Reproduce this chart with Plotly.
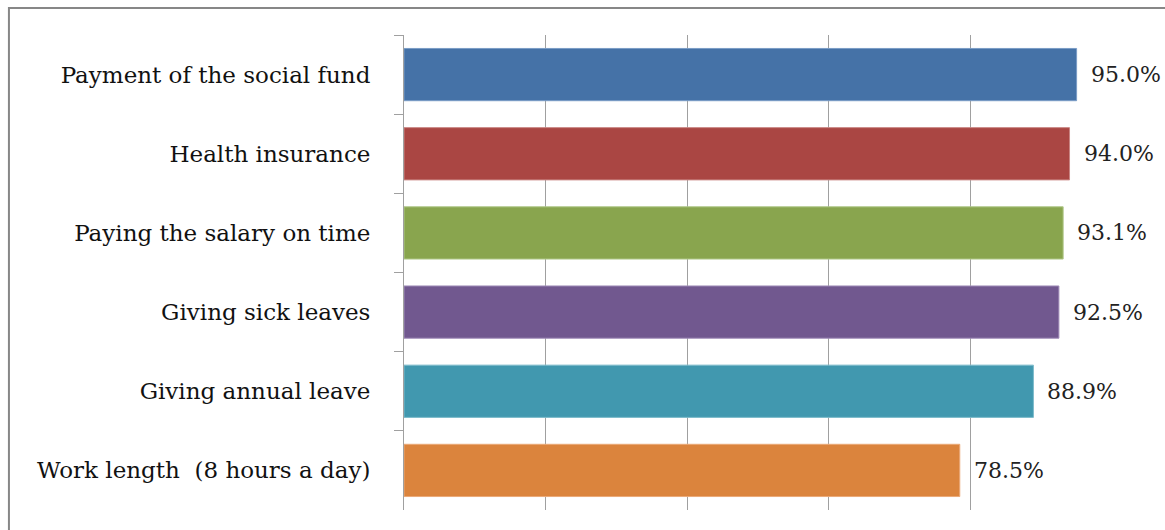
import plotly.graph_objects as go

categories = [
    "Payment of the social fund",
    "Health insurance",
    "Paying the salary on time",
    "Giving sick leaves",
    "Giving annual leave",
    "Work length  (8 hours a day)",
]
values = [95.0, 94.0, 93.1, 92.5, 88.9, 78.5]
colors = ["#4572A7", "#AA4643", "#89A54E", "#71588F", "#4198AF", "#DB843D"]
border_colors = ["#7A9CC6", "#C98583", "#B0C88A", "#A08DB8", "#7DBBCB", "#EBAA78"]
value_labels = [f"{v:.1f}%" for v in values]

FONT = "DejaVu Serif"

fig = go.Figure()
fig.add_trace(go.Bar(
    y=categories,
    x=values,
    orientation="h",
    marker=dict(color=colors, line=dict(color=border_colors, width=1)),
    width=0.66,
    hoverinfo="skip",
))

for cat, v, lab in zip(categories, values, value_labels):
    fig.add_annotation(
        x=v, y=cat, text=lab, showarrow=False,
        xanchor="left", yanchor="middle", xshift=12,
        font=dict(family=FONT, size=22, color="#222222"),
    )

# outer chart frame (extends past right/bottom edges like the reference)
fig.add_shape(
    type="rect", xref="paper", yref="paper",
    x0=-0.558, x1=1.3, y0=-0.2, y1=1.0568,
    line=dict(color="#878787", width=2), fillcolor="rgba(0,0,0,0)",
    layer="below",
)

fig.update_layout(
    width=1165, height=530,
    margin=dict(l=404, r=53, t=35, b=20),
    paper_bgcolor="white", plot_bgcolor="white",
    showlegend=False,
    xaxis=dict(
        range=[0, 100], tickvals=[0, 20, 40, 60, 80, 100],
        showticklabels=False, showgrid=True, gridcolor="#A0A0A0", gridwidth=1,
        zeroline=False, showline=False, fixedrange=True,
    ),
    yaxis=dict(
        autorange="reversed", type="category",
        showline=True, linecolor="#A0A0A0", linewidth=1,
        ticks="outside", ticklen=9, tickcolor="#A0A0A0", tickwidth=1,
        tickson="boundaries", ticklabelstandoff=28,
        tickfont=dict(family=FONT, size=23, color="#111111"),
        showgrid=False, fixedrange=True,
    ),
)

fig.write_html(
    "out.html",
    config={"displayModeBar": False, "staticPlot": True},
    post_script="document.body.style.margin='0';document.body.style.overflow='hidden';",
)
